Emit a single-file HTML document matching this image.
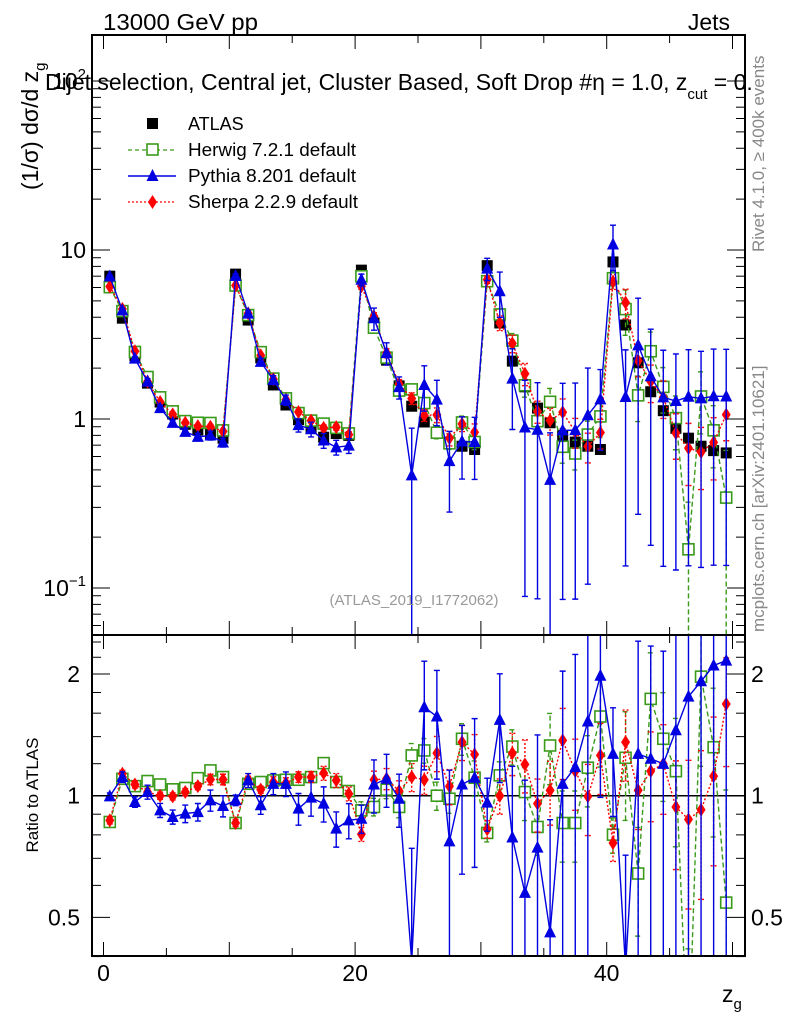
<!DOCTYPE html>
<html><head><meta charset="utf-8">
<style>
html,body{margin:0;padding:0;background:#fff;overflow:hidden;}
svg{display:block;font-family:"Liberation Sans","DejaVu Sans",sans-serif;}
</style></head>
<body>
<svg id="chart" width="786" height="1024" viewBox="0 0 786 1024" xmlns="http://www.w3.org/2000/svg">
<rect width="786" height="1024" fill="#fff"/>
<g id="plot"></g>
<text x="103" y="30" font-size="23" textLength="155" lengthAdjust="spacingAndGlyphs">13000 GeV pp</text>
<text x="730" y="30" font-size="23" text-anchor="end">Jets</text>
<text x="45" y="90" font-size="23">Dijet selection, Central jet, Cluster Based, Soft Drop #η = 1.0, z<tspan font-size="15" dy="9">cut</tspan><tspan dy="-9"> = 0.</tspan></text>
<text transform="translate(38,190) rotate(-90)" font-size="23">(1/σ) dσ/d z<tspan font-size="15" dy="7">g</tspan></text>
<text transform="translate(38,795) rotate(-90)" font-size="17" text-anchor="middle">Ratio to ATLAS</text>
<text transform="translate(764,252) rotate(-90)" font-size="17" fill="#888">Rivet 4.1.0, ≥ 400k events</text>
<text transform="translate(764,632) rotate(-90)" font-size="17" fill="#888">mcplots.cern.ch [arXiv:2401.10621]</text>
<text x="414" y="605" font-size="15" fill="#999" text-anchor="middle">(ATLAS_2019_I1772062)</text>
<text x="722" y="1002" font-size="23">z<tspan font-size="15" dy="7">g</tspan></text>
<g>
  <rect x="147" y="118" width="11" height="11" fill="#000"/>
  <text x="188" y="130" font-size="18">ATLAS</text>
  <line x1="128" y1="150" x2="176" y2="150" stroke="#3a9a1a" stroke-dasharray="4,3" stroke-width="1.3"/>
  <rect x="147" y="144" width="11" height="11" fill="#fff" stroke="#3a9a1a" stroke-width="1.6"/>
  <text x="188" y="156" font-size="18" textLength="168" lengthAdjust="spacingAndGlyphs">Herwig 7.2.1 default</text>
  <line x1="128" y1="176" x2="176" y2="176" stroke="#0000e0" stroke-width="1.5"/>
  <path d="M152.5,169 L158.5,181 L146.5,181 Z" fill="#0000e0"/>
  <text x="188" y="182" font-size="18" textLength="168" lengthAdjust="spacingAndGlyphs">Pythia 8.201 default</text>
  <line x1="128" y1="202" x2="176" y2="202" stroke="#f00" stroke-dasharray="2,2" stroke-width="1.3"/>
  <path d="M152.5,195 L157,202 L152.5,209 L148,202 Z" fill="#f00"/>
  <text x="188" y="208" font-size="18" textLength="170" lengthAdjust="spacingAndGlyphs">Sherpa 2.2.9 default</text>
</g>
</svg>
<script>
const zgBins = [0.5,1.5,2.5,3.5,4.5,5.5,6.5,7.5,8.5,9.5,10.5,11.5,12.5,13.5,14.5,15.5,16.5,17.5,18.5,19.5,20.5,21.5,22.5,23.5,24.5,25.5,26.5,27.5,28.5,29.5,30.5,31.5,32.5,33.5,34.5,35.5,36.5,37.5,38.5,39.5,40.5,41.5,42.5,43.5,44.5,45.5,46.5,47.5,48.5,49.5];
const atlasValues = [7.0,3.95,2.36,1.63,1.26,1.07,0.93,0.86,0.82,0.77,7.2,3.85,2.3,1.59,1.21,0.99,0.88,0.78,0.82,0.8,7.6,3.7,2.23,1.57,1.19,0.96,0.83,0.73,0.69,0.66,8.08,3.7,2.2,1.55,1.16,0.95,0.8,0.73,0.69,0.66,8.5,3.6,2.15,1.45,1.12,0.88,0.77,0.69,0.65,0.63];
const herwigRatio = [0.861,1.101,1.056,1.087,1.066,1.037,1.045,1.105,1.155,1.112,0.856,1.07,1.081,1.091,1.095,1.095,1.112,1.204,1.081,1.027,0.92,0.938,1.035,0.938,1.258,1.294,1.0,0.983,1.383,1.108,0.809,1.123,1.323,1.021,0.837,1.331,0.856,0.856,1.173,1.57,0.801,1.241,0.642,1.736,1.383,1.15,0.22,1.97,1.318,0.544];
const pythiaRatio = [0.996,1.112,0.965,1.021,0.92,0.886,0.903,0.911,0.974,0.943,0.974,1.091,0.947,1.07,1.07,0.929,0.989,0.956,0.829,0.869,0.877,1.066,1.101,0.983,0.39,1.655,1.57,0.771,1.066,1.108,0.961,1.54,0.788,0.575,0.744,0.459,1.07,1.177,1.526,1.98,1.269,0.375,1.269,1.234,1.199,1.452,1.758,1.919,2.099,2.158];
const sherpaRatio = [0.869,1.133,1.066,1.021,1.0,0.996,1.021,1.056,1.097,1.097,0.856,1.095,1.035,1.081,1.075,1.112,1.112,1.137,1.091,1.011,0.803,1.095,1.101,1.027,1.112,1.095,1.274,1.055,1.357,1.265,0.826,1.0,1.274,1.195,0.956,1.031,1.37,1.15,0.996,1.258,0.764,1.357,1.031,1.15,1.199,0.938,0.874,0.923,1.118,1.686];
const herwigRelErr = [0.02,0.02,0.02,0.02,0.02,0.02,0.02,0.02,0.02,0.02,0.02,0.02,0.02,0.02,0.02,0.02,0.02,0.02,0.02,0.02,0.05,0.05,0.05,0.06,0.07,0.07,0.08,0.08,0.09,0.1,0.05,0.08,0.1,0.15,0.15,0.2,0.2,0.2,0.2,0.25,0.1,0.3,0.3,0.3,0.3,0.35,0.9,0.4,0.4,0.9];
const pythiaRelErr = [0.02,0.03,0.03,0.04,0.04,0.04,0.05,0.05,0.06,0.06,0.03,0.04,0.05,0.06,0.07,0.09,0.1,0.1,0.1,0.1,0.08,0.15,0.15,0.15,0.9,0.3,0.3,0.5,0.4,0.4,0.15,0.3,0.5,0.9,0.9,0.9,0.9,0.9,0.9,0.5,0.3,0.9,0.9,0.9,0.9,0.9,0.9,0.9,0.9,0.9];
const sherpaRelErr = [0.02,0.02,0.02,0.02,0.02,0.02,0.02,0.02,0.03,0.03,0.02,0.02,0.02,0.03,0.03,0.03,0.03,0.04,0.04,0.04,0.04,0.05,0.06,0.06,0.08,0.08,0.1,0.1,0.1,0.12,0.05,0.1,0.12,0.15,0.15,0.18,0.2,0.2,0.2,0.2,0.1,0.2,0.2,0.25,0.25,0.3,0.4,0.4,0.4,0.3];
const mainTickLabels = ["10⁻¹","1","10","10²"];
const ratioTickValues = [0.5,1,2];
const xTickLabels = [0,20,40];

const NS="http://www.w3.org/2000/svg";
const plot=document.getElementById('plot');
const L=92,R=745,T=35,MB=635,RB=956;
const X0=103.5,SX=12.58;
function xs(v){return X0+SX*v;}
function ym(v){return 419-169*Math.log10(v);}
function yr(v){return 795.7-121.7*Math.log2(v);}
function mk(tag,attrs,parent){const e=document.createElementNS(NS,tag);for(const k in attrs)e.setAttribute(k,attrs[k]);(parent||plot).appendChild(e);return e;}

const defs=mk('defs',{});
const c1=mk('clipPath',{id:'cm'},defs);mk('rect',{x:L,y:T,width:R-L,height:MB-T},c1);
const c2=mk('clipPath',{id:'cr'},defs);mk('rect',{x:L,y:MB,width:R-L,height:RB-MB},c2);

const gMain=mk('g',{'clip-path':'url(#cm)'});


const gRatio=mk('g',{'clip-path':'url(#cr)'});



const refLine=mk('line',{x1:L,x2:R,y1:yr(1),y2:yr(1),stroke:'#000','stroke-width':1.5},gRatio);



const series=[
 {name:'herwig',ratio:herwigRatio,err:herwigRelErr,color:'#3a9a1a',dash:'5,3',marker:'sq'},
 {name:'sherpa',ratio:sherpaRatio,err:sherpaRelErr,color:'#f00',dash:'2,2',marker:'di'},
 {name:'pythia',ratio:pythiaRatio,err:pythiaRelErr,color:'#0000e0',dash:'',marker:'tri'}
];
function marker(g,type,x,y,color){
  let e;
  if(type==='sq')e=mk('rect',{x:x-5.5,y:y-5.5,width:11,height:11,fill:'#fff',stroke:color,'stroke-width':1.6},g);
  else if(type==='tri')e=mk('path',{d:`M${x},${y-7} L${x+6},${y+5} L${x-6},${y+5} Z`,fill:color},g);
  else e=mk('path',{d:`M${x},${y-7} L${x+4.5},${y} L${x},${y+7} L${x-4.5},${y} Z`,fill:color},g);
  return e;
}
function drawSeries(s,g,yf,valsFn,panel){
  const vals=zgBins.map((b,i)=>valsFn(i));
  const pts=zgBins.map((b,i)=>[xs(b),yf(Math.max(vals[i],1e-3))]);
  const line=mk('polyline',{points:pts.map(p=>p.join(',')).join(' '),fill:'none',stroke:s.color,'stroke-width':1.4,'stroke-dasharray':s.dash},g);
  
  
  zgBins.forEach((b,i)=>{
    const v=vals[i],e=s.err[i];
    const lo=Math.max(v*(1-e),1e-3),hi=v*(1+e);
    const x=xs(b);
    const eb=mk('path',{d:`M${x},${yf(lo)} L${x},${yf(hi)} M${x-3},${yf(lo)} L${x+3},${yf(lo)} M${x-3},${yf(hi)} L${x+3},${yf(hi)}`,stroke:s.color,'stroke-width':1.4,fill:'none','stroke-dasharray':s.dash},g);
    
    
    const m=marker(g,s.marker,x,yf(Math.max(v,1e-3)),s.color);
    
    
  });
}
zgBins.forEach((b,i)=>{
  const r=mk('rect',{x:xs(b)-5.5,y:ym(atlasValues[i])-5.5,width:11,height:11,fill:'#000'},gMain);
  
  
});
series.forEach(s=>{
  drawSeries(s,gMain,ym,i=>atlasValues[i]*s.ratio[i],'main');
  drawSeries(s,gRatio,yr,i=>s.ratio[i],'ratio');
});

const f1=mk('rect',{x:L,y:T,width:R-L,height:MB-T,fill:'none',stroke:'#000','stroke-width':2});


const f2=mk('rect',{x:L,y:MB,width:R-L,height:RB-MB,fill:'none',stroke:'#000','stroke-width':2});



for(let v=0;v<=50;v+=5){
  const x=xs(v),len=(v%10===0)?14:8;
  [[T,1],[MB,-1],[MB,1],[RB,-1]].forEach(([y,d])=>{
    const t=mk('line',{x1:x,x2:x,y1:y,y2:y+d*len,stroke:'#000','stroke-width':1});
    
    
  });
}
xTickLabels.forEach(v=>{
  const t=mk('text',{x:xs(v),y:981,'font-size':23,'text-anchor':'middle'});
  t.textContent=v;
  
  
});
for(let d=-2;d<=2;d++){
  for(let k=1;k<=9;k++){
    const v=k*Math.pow(10,d),y=ym(v);
    if(y<T||y>MB)continue;
    const len=k===1?18:9;
    [[L,1],[R,-1]].forEach(([x,s])=>{
      const t=mk('line',{x1:x,x2:x+s*len,y1:y,y2:y,stroke:'#000','stroke-width':1});
      
      
    });
  }
}
mainTickLabels.forEach((lab,i)=>{
  const v=Math.pow(10,i-1),y=ym(v);
  const t=mk('text',{x:86,y:y+8,'font-size':23,'text-anchor':'end'});
  if(lab.length>2){t.innerHTML='10<tspan font-size="15" dy="-10">'+(i===0?'−1':'2')+'</tspan>';}
  else t.textContent=lab;
  
  
});
[0.4,0.5,0.6,0.7,0.8,0.9,1,1.2,1.4,1.6,1.8,2,2.2,2.4].forEach(v=>{
  const y=yr(v),len=(v===0.5||v===1||v===2)?18:9;
  [[L,1],[R,-1]].forEach(([x,s])=>{
    const t=mk('line',{x1:x,x2:x+s*len,y1:y,y2:y,stroke:'#000','stroke-width':1});
    
    
  });
});
ratioTickValues.forEach(v=>{
  [[80,'end'],[751,'start']].forEach(([x,a])=>{
    const t=mk('text',{x:x,y:yr(v)+8,'font-size':23,'text-anchor':a});
    t.textContent=v;
    
    
  });
});
</script>
</body></html>
